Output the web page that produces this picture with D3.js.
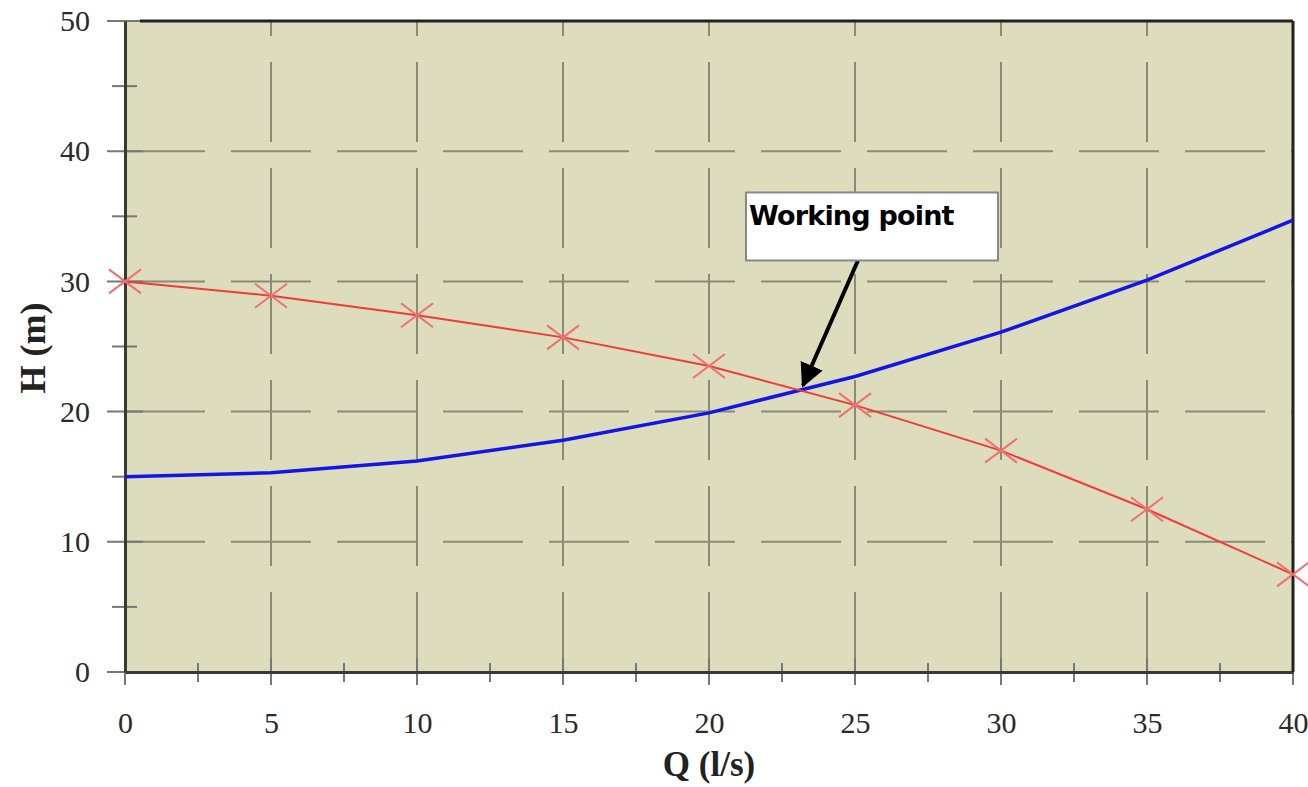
<!DOCTYPE html>
<html>
<head>
<meta charset="utf-8">
<script src="https://cdn.jsdelivr.net/npm/d3@7"></script>
<style>
  body { margin: 0; background: #fff; }
  .tick text { font-family: "Liberation Serif", "Times New Roman", serif; }
</style>
</head>
<body>
<div id="chart"></div>
<script>
// pump curve vs system curve
const flow = [0, 5, 10, 15, 20, 25, 30, 35, 40]
const pumpHead = [30, 28.9, 27.4, 25.7, 23.5, 20.5, 17, 12.5, 7.5]
const systemHead = [15, 15.3, 16.2, 17.8, 19.9, 22.7, 26.1, 30.1, 34.7]
const xTicks = [0, 5, 10, 15, 20, 25, 30, 35, 40]
const yTicks = [0, 10, 20, 30, 40, 50]
const workingPoint = { q: 23.15, h: 21.7, label: 'Working point' }

const width = 1308,
      height = 787,
      margin = { top: 21, right: 15, bottom: 115, left: 125 }

let svg = d3.select('#chart')
  .append('svg')
  .attr('width', width)
  .attr('height', height)

let x = d3.scaleLinear()
  .domain([0, 40])
  .range([margin.left, width - margin.right])

let y = d3.scaleLinear()
  .domain([0, 50])
  .range([height - margin.bottom, margin.top])

const x0 = x(0), x1 = x(40), y0 = y(0), y1 = y(50)

// plot background
svg.append('rect')
  .attr('x', x0).attr('y', y1)
  .attr('width', x1 - x0).attr('height', y0 - y1)
  .attr('fill', '#dddcbc')

// dashed grid
svg.append('g').selectAll('line')
  .data(xTicks.slice(1, -1))
  .enter().append('line')
  .attr('x1', d => x(d)).attr('x2', d => x(d))
  .attr('y1', y0).attr('y2', y1)
  .attr('stroke', '#8a8a76').attr('stroke-width', 2)
  .attr('stroke-dasharray', '80,26')

svg.append('g').selectAll('line')
  .data(yTicks.slice(1, -1))
  .enter().append('line')
  .attr('x1', x0).attr('x2', x1)
  .attr('y1', d => y(d)).attr('y2', d => y(d))
  .attr('stroke', '#8a8a76').attr('stroke-width', 2)
  .attr('stroke-dasharray', '80,26')

// minor ticks crossing the axes
let yMinor = d3.range(5, 50, 10)
svg.append('g').selectAll('line')
  .data(yMinor).enter().append('line')
  .attr('x1', x0 - 13).attr('x2', x0 + 12)
  .attr('y1', d => y(d)).attr('y2', d => y(d))
  .attr('stroke', '#777').attr('stroke-width', 2)

svg.append('g').selectAll('line')
  .data(yTicks).enter().append('line')
  .attr('x1', x0 - 18).attr('x2', x0 + 18)
  .attr('y1', d => y(d)).attr('y2', d => y(d))
  .attr('stroke', '#777').attr('stroke-width', 2)

let xMinor = d3.range(2.5, 40, 5)
svg.append('g').selectAll('line')
  .data(xMinor).enter().append('line')
  .attr('x1', d => x(d)).attr('x2', d => x(d))
  .attr('y1', y0 - 9).attr('y2', y0 + 10)
  .attr('stroke', '#777').attr('stroke-width', 2)

svg.append('g').selectAll('line')
  .data(xTicks).enter().append('line')
  .attr('x1', d => x(d)).attr('x2', d => x(d))
  .attr('y1', y0 - 14).attr('y2', y0 + 13)
  .attr('stroke', '#777').attr('stroke-width', 2)

// axes frame
svg.append('g')
  .attr('transform', `translate(${x0}, 0)`)
  .call(d3.axisLeft(y).tickValues(yTicks).tickSize(0).tickPadding(35))
  .call(g => g.select('.domain').attr('stroke', '#3a3a30').attr('stroke-width', 3))
  .call(g => g.selectAll('text').attr('font-size', 30).attr('fill', '#2a2a2a'))

svg.append('g')
  .attr('transform', `translate(0, ${y0})`)
  .call(d3.axisBottom(x).tickValues(xTicks).tickSize(0).tickPadding(40))
  .call(g => g.select('.domain').attr('stroke', '#3a3a30').attr('stroke-width', 3))
  .call(g => g.selectAll('text').attr('font-size', 30).attr('fill', '#2a2a2a'))

svg.append('line')
  .attr('x1', x0 + 15).attr('x2', x1).attr('y1', y1).attr('y2', y1)
  .attr('stroke', '#222').attr('stroke-width', 3)
svg.append('line')
  .attr('x1', x1).attr('x2', x1).attr('y1', y1).attr('y2', y0)
  .attr('stroke', '#222').attr('stroke-width', 3)

// system curve
let sysLine = d3.line()
  .x((d, i) => x(flow[i]))
  .y(d => y(d))

svg.append('path')
  .datum(systemHead)
  .attr('d', sysLine)
  .attr('fill', 'none')
  .attr('stroke', '#1414e6')
  .attr('stroke-width', 3.5)

// pump curve with x markers
svg.append('path')
  .datum(pumpHead)
  .attr('d', sysLine)
  .attr('fill', 'none')
  .attr('stroke', '#f03a3a')
  .attr('stroke-width', 2)

let marks = svg.append('g').selectAll('g')
  .data(pumpHead).enter().append('g')
  .attr('transform', (d, i) => `translate(${x(flow[i])}, ${y(d)})`)

marks.append('path')
  .attr('d', 'M-16,-12L16,12M-16,12L16,-12')
  .attr('stroke', '#f07070')
  .attr('stroke-width', 2)

// annotation
let tipX = x(workingPoint.q), tipY = y(workingPoint.h)
let boxX = tipX - 55, boxY = tipY - 197

svg.append('defs').append('marker')
  .attr('id', 'arrow')
  .attr('viewBox', '0 0 10 10')
  .attr('refX', 9).attr('refY', 5)
  .attr('markerWidth', 6).attr('markerHeight', 6)
  .attr('orient', 'auto')
  .append('path')
  .attr('d', 'M0,0L10,5L0,10Z')
  .attr('fill', '#000')

svg.append('line')
  .attr('x1', tipX + 57).attr('y1', boxY + 68)
  .attr('x2', tipX + 2).attr('y2', tipY - 4)
  .attr('stroke', '#000').attr('stroke-width', 4)
  .attr('marker-end', 'url(#arrow)')

svg.append('rect')
  .attr('x', boxX).attr('y', boxY)
  .attr('width', 252).attr('height', 68)
  .attr('fill', '#fff')
  .attr('stroke', '#888').attr('stroke-width', 2)

svg.append('text')
  .attr('x', boxX + 3).attr('y', boxY + 33)
  .attr('font-family', '"DejaVu Sans", Verdana, sans-serif')
  .attr('font-weight', 'bold')
  .attr('font-size', 27)
  .attr('letter-spacing', -0.8)
  .text(workingPoint.label)

// axis titles
svg.append('text')
  .attr('transform', `translate(45, 348) rotate(-90)`)
  .attr('text-anchor', 'middle')
  .attr('font-family', '"Liberation Serif", serif')
  .attr('font-weight', 'bold')
  .attr('font-size', 36)
  .attr('fill', '#222')
  .text('H (m)')

svg.append('text')
  .attr('x', x(20)).attr('y', 776)
  .attr('text-anchor', 'middle')
  .attr('font-family', '"Liberation Serif", serif')
  .attr('font-weight', 'bold')
  .attr('font-size', 35)
  .attr('fill', '#222')
  .text('Q (l/s)')
</script>
</body>
</html>
